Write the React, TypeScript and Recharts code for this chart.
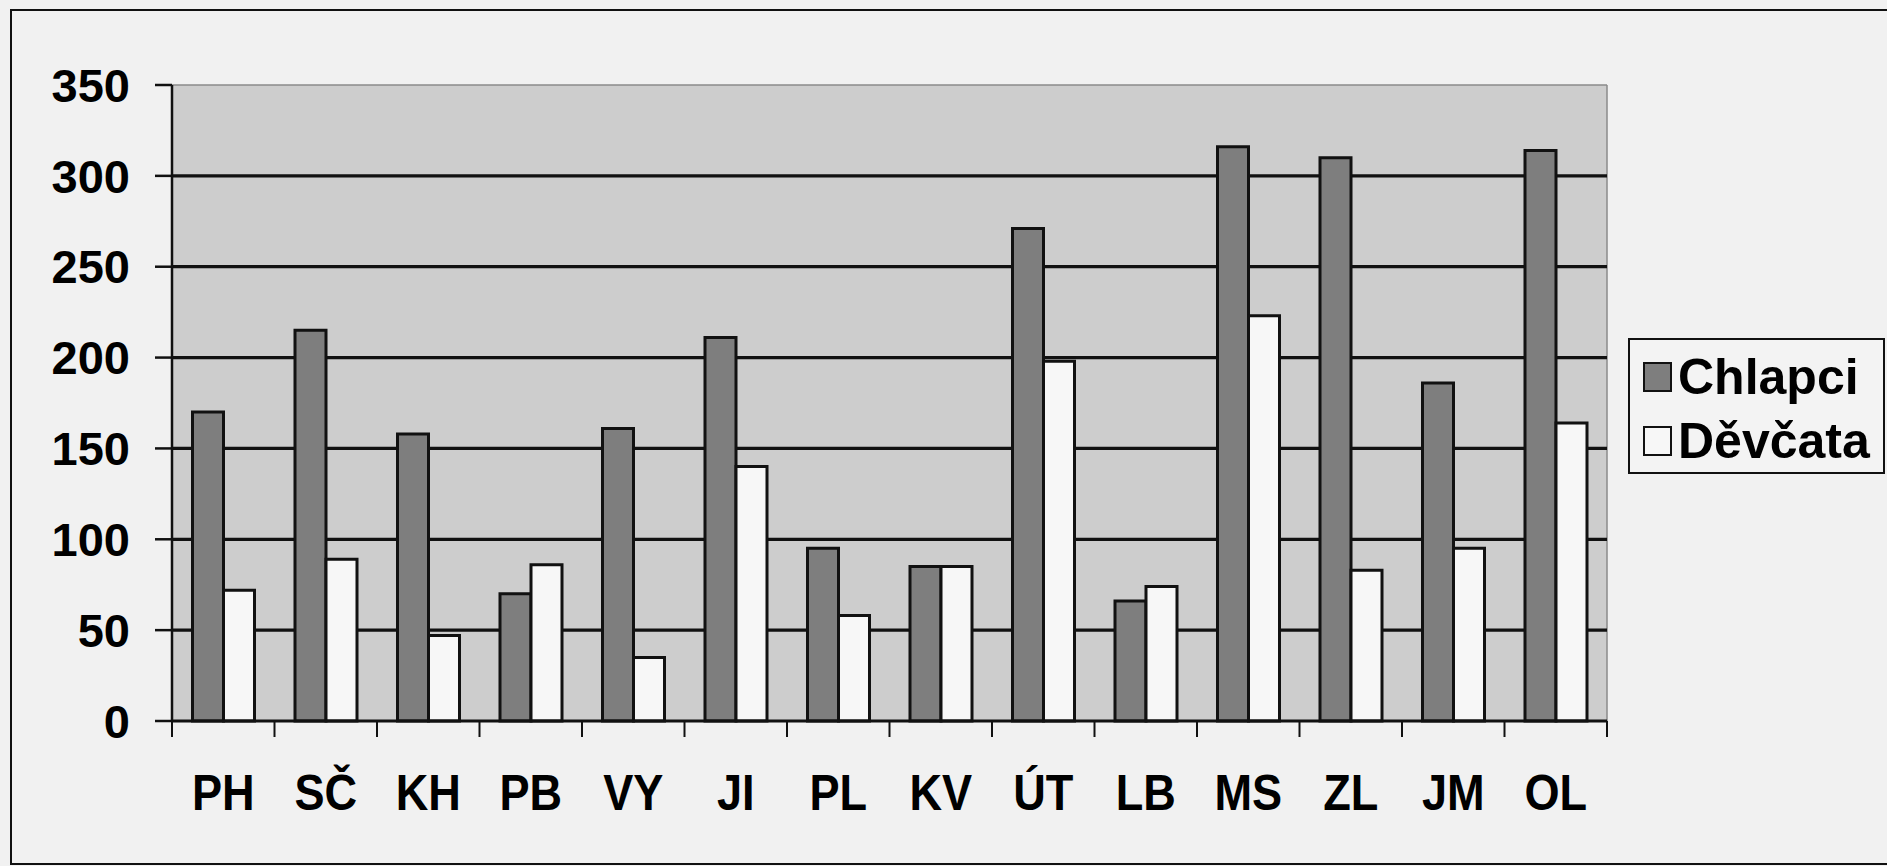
import { Bar, BarChart, CartesianGrid, Legend, XAxis, YAxis } from 'recharts';

const CATEGORIES = ['PH', 'SČ', 'KH', 'PB', 'VY', 'JI', 'PL', 'KV', 'ÚT', 'LB', 'MS', 'ZL', 'JM', 'OL'];
const CHLAPCI = [170, 215, 158, 70, 161, 211, 95, 85, 271, 66, 316, 310, 186, 314];
const DEVCATA = [72, 89, 47, 86, 35, 140, 58, 85, 198, 74, 223, 83, 95, 164];
const Y_TICKS = [0, 50, 100, 150, 200, 250, 300, 350];
const GRID_VALUES = [50, 100, 150, 200, 250, 300];

const FONT = '"Liberation Sans", Arial, sans-serif';
const BOY = '#7e7e7e';
const GIRL = '#f7f7f7';

const data = CATEGORIES.map((c, i) => ({ c, chlapci: CHLAPCI[i], devcata: DEVCATA[i] }));

function CatTick(props: any) {
  const { x, y, payload, index, width, visibleTicksCount } = props;
  const half = payload?.offset || width / visibleTicksCount / 2;
  const last = index === visibleTicksCount - 1;
  return (
    <g>
      <line x1={x - half} x2={x - half} y1={y} y2={y + 16} stroke="#111" strokeWidth={2} />
      {last && <line x1={x + half} x2={x + half} y1={y} y2={y + 16} stroke="#111" strokeWidth={2} />}
      <text
        transform={`translate(${x},${y + 89}) scale(0.96,1.08)`}
        textAnchor="middle"
        fontFamily={FONT}
        fontWeight="bold"
        fontSize={47}
        fill="#000"
      >
        {payload.value}
      </text>
    </g>
  );
}

function LegendBox() {
  const row = (label: string, fill: string, top: number) => (
    <div key={label} style={{ position: 'absolute', left: 13, top, display: 'flex', alignItems: 'center' }}>
      <div style={{ width: 25, height: 26, border: '2px solid #111', background: fill, boxSizing: 'content-box' }} />
      <span style={{ marginLeft: 6, fontFamily: FONT, fontWeight: 'bold', fontSize: 50, lineHeight: '50px', color: '#000' }}>
        {label}
      </span>
    </div>
  );
  return (
    <div
      style={{
        position: 'relative',
        width: 253,
        height: 132,
        border: '2px solid #111',
        background: '#f3f3f3',
      }}
    >
      {row('Chlapci', BOY, 12)}
      {row('Děvčata', GIRL, 76)}
    </div>
  );
}

export default function App() {
  return (
    <div
      style={{
        position: 'absolute',
        left: 0,
        top: 0,
        width: 1887,
        height: 866,
        background: '#f1f1f1',
        overflow: 'hidden',
      }}
    >
      <div
        style={{
          position: 'absolute',
          left: 10,
          top: 9,
          width: 1900,
          height: 852,
          border: '2px solid #111',
        }}
      />
      <BarChart
        width={1887}
        height={866}
        data={data}
        margin={{ top: 85, right: 280, bottom: 45, left: 0 }}
        barCategoryGap="20%"
        barGap={0}
      >
        <CartesianGrid
          fill="#cdcdcd"
          stroke="#8a8a8a"
          strokeWidth={1.5}
          horizontalValues={[350]}
          verticalCoordinatesGenerator={({ offset }: any) => [offset.left + offset.width]}
        />
        <CartesianGrid stroke="#111" strokeWidth={3.2} vertical={false} horizontalValues={GRID_VALUES} />
        <XAxis
          dataKey="c"
          height={100}
          tickLine={false}
          tickSize={0}
          tickMargin={0}
          axisLine={{ stroke: '#111', strokeWidth: 3 }}
          tick={<CatTick />}
          interval={0}
        />
        <YAxis
          width={172}
          domain={[0, 350]}
          ticks={Y_TICKS}
          interval={0}
          tickSize={17}
          tickMargin={25}
          tickLine={{ stroke: '#111', strokeWidth: 2.5 }}
          axisLine={{ stroke: '#111', strokeWidth: 2.5 }}
          tick={{ fill: '#000', fontFamily: FONT, fontWeight: 'bold', fontSize: 47 }}
        />
        <Legend
          layout="horizontal"
          align="center"
          verticalAlign="middle"
          wrapperStyle={{ left: 1628, top: 338, width: 257, height: 136 }}
          content={() => <LegendBox />}
        />
        <Bar dataKey="chlapci" name="Chlapci" fill={BOY} stroke="#111" strokeWidth={3} isAnimationActive={false} />
        <Bar dataKey="devcata" name="Děvčata" fill={GIRL} stroke="#111" strokeWidth={3} isAnimationActive={false} />
      </BarChart>
    </div>
  );
}
